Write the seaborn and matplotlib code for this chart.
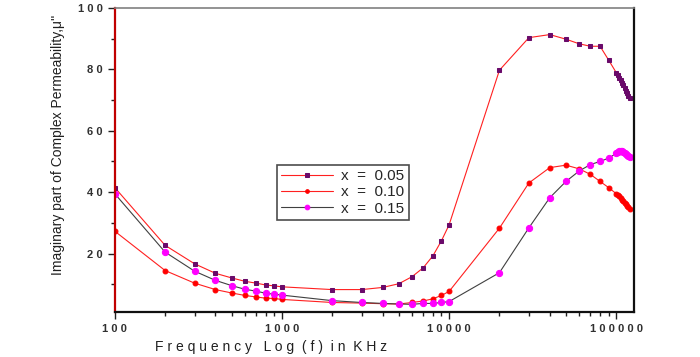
import pandas as pd
import matplotlib
matplotlib.use("Agg")
import matplotlib.pyplot as plt
import seaborn as sns
from matplotlib.ticker import FixedLocator, NullFormatter

# --- Data ---
freq = [100, 200, 300, 400, 500, 600, 700, 800, 900, 1000, 2000, 3000, 4000,
        5000, 6000, 7000, 8000, 9000, 10000, 20000, 30000, 40000, 50000, 60000,
        70000, 80000, 90000, 100000, 102000, 104000, 106000, 108000, 110000,
        112000, 114000, 116000, 118000, 120000]

mu_005 = [41.5, 22.7, 16.7, 13.6, 12.1, 11.0, 10.4, 9.8, 9.5, 9.2, 8.3, 8.3, 9.0,
          10.2, 12.5, 15.4, 19.3, 24.2, 29.4, 79.7, 90.3, 91.3, 89.8, 88.3,
          87.5, 87.5, 83.0, 78.9, 78.2, 77.3, 76.5, 75.6, 74.8,
          73.9, 73.0, 72.2, 71.3, 70.6]

mu_010 = [27.3, 14.5, 10.4, 8.3, 7.2, 6.4, 5.9, 5.5, 5.4, 5.1, 4.1, 3.9, 3.7,
          3.6, 4.1, 4.6, 5.3, 6.4, 7.7, 28.3, 43.0, 48.0, 48.8, 47.6,
          45.8, 43.5, 41.5, 39.5, 39.0, 38.6, 38.1, 37.6, 37.1,
          36.6, 36.1, 35.6, 35.1, 34.6]

mu_015 = [39.5, 20.5, 14.3, 11.3, 9.6, 8.4, 7.8, 7.1, 6.8, 6.5, 4.7, 4.1, 3.8,
          3.6, 3.5, 3.8, 3.8, 4.1, 4.4, 13.8, 28.4, 38.2, 43.5, 46.9,
          49.0, 50.0, 51.1, 52.6, 53.0, 53.3, 53.4, 53.3, 53.0,
          52.7, 52.3, 52.0, 51.7, 51.4]

labels = ["x  =  0.05", "x  =  0.10", "x  =  0.15"]
xtick_vals = [100, 1000, 10000, 100000]
ytick_vals = [20, 40, 60, 80, 100]

df = pd.DataFrame({"freq": freq, labels[0]: mu_005,
                   labels[1]: mu_010, labels[2]: mu_015})

sns.set_theme(style="white")
plt.rcParams['font.family'] = ['Liberation Sans', 'DejaVu Sans']

fig = plt.figure(figsize=(7, 3.57), dpi=100)
ax = fig.add_axes([0.164, 0.126, 0.742, 0.852])

styles = [
    dict(color="#ff2020", marker="s", markersize=3.5, markerfacecolor="#6a0a6a",
         markeredgecolor="#6a0a6a"),
    dict(color="#ff2020", marker="o", markersize=3.5, markerfacecolor="#ff0000",
         markeredgecolor="#ff0000"),
    dict(color="#404040", marker="o", markersize=4.5, markerfacecolor="#ff00ff",
         markeredgecolor="#ff00ff"),
]
for lab, st in zip(labels, styles):
    sns.lineplot(data=df, x="freq", y=lab, ax=ax, label=lab, linewidth=0.8, **st)

ax.set_xscale("log")
ax.set_xlim(100, 128000)
ax.set_ylim(1, 100)

# letter-spaced tick labels, like the original
spaced = lambda v: " ".join(str(v))
ax.xaxis.set_major_locator(FixedLocator(xtick_vals))
ax.set_xticklabels([spaced(v) for v in xtick_vals])
minors = [m * 10 ** k for k in range(2, 6) for m in range(2, 10)]
ax.xaxis.set_minor_locator(FixedLocator(minors))
ax.xaxis.set_minor_formatter(NullFormatter())
ax.yaxis.set_major_locator(FixedLocator(ytick_vals))
ax.set_yticklabels([spaced(v) for v in ytick_vals])
ax.yaxis.set_minor_locator(FixedLocator([10, 30, 50, 70, 90]))

ax.tick_params(axis="both", which="major", direction="out", length=5, width=1,
               color="#202020", labelsize=8, labelcolor="#303030")
ax.tick_params(axis="both", which="minor", direction="out", length=3, width=1,
               color="#202020")
ax.tick_params(bottom=True, left=True, which="both")
for t in ax.get_xticklabels() + ax.get_yticklabels():
    t.set_fontweight("bold")

for side in ["bottom", "right"]:
    ax.spines[side].set_color("#101010")
    ax.spines[side].set_linewidth(1.6)
ax.spines["left"].set_color("#c00000")
ax.spines["left"].set_linewidth(1.6)
ax.spines["top"].set_color("#808080")
ax.spines["top"].set_linewidth(1.2)

ax.set_xlabel("F r e q u e n c y   L o g  ( f )  i n  K H z", fontsize=10,
              color="#202020")
ax.xaxis.set_label_coords(0.30, -0.092)
ax.set_ylabel("Imaginary part of Complex Permeability,\u03bc''", fontsize=10,
              color="#202020")
ax.yaxis.set_label_coords(-0.095, 0.55)

leg = ax.legend(loc="upper left", bbox_to_anchor=(0.297, 0.51), frameon=True,
                fancybox=False, fontsize=11, handlelength=3.4, markerscale=0.75,
                borderpad=0.3, labelspacing=0.15, handletextpad=0.5)
leg.get_frame().set_edgecolor("#202020")
leg.get_frame().set_linewidth(1.2)

fig.savefig("out.png", dpi=100)
